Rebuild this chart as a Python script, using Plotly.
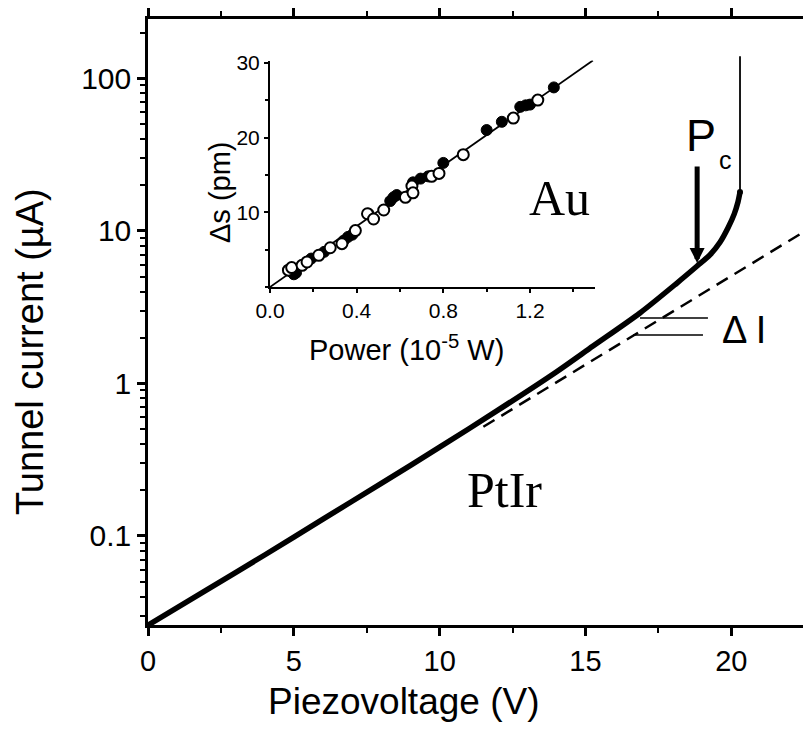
import plotly.graph_objects as go
import math

# ---------------- data ----------------
# main curve: piezovoltage (V) vs tunnel current (uA)
curve_x = [0, 2, 4, 6, 8, 10, 12, 14, 15.26, 16.87, 18.13, 18.83, 19.27, 19.62, 19.89,
           20.10, 20.23, 20.30]
curve_y = [0.026, 0.0442, 0.0750, 0.129, 0.221, 0.382, 0.668, 1.19, 1.76, 2.90, 4.54, 5.89,
           6.97, 8.47, 10.5, 12.9, 15.5, 18.0]
# thin vertical continuation (contact)
jump_x = [20.3, 20.3]
jump_y = [18.0, 140]
# extrapolated exponential (dashed)
extrap_x = [11.5, 22.5]
extrap_y = [0.52, 9.9]
# Delta I marker lines
dI_upper_x = [16.87, 19.2]
dI_upper_y = [2.69, 2.69]
dI_lower_x = [16.63, 19.03]
dI_lower_y = [2.08, 2.08]
# P_c arrow position (V, uA)
pc_x = 18.83
pc_y = 6.17

# inset: power (1e-5 W) vs delta s (pm)
filled_x = [0.10, 0.11, 0.12, 0.19, 0.25, 0.34, 0.36, 0.38, 0.455, 0.555, 0.57, 0.585,
            0.66, 0.695, 0.73, 0.80, 1.00, 1.07, 1.155, 1.18, 1.20, 1.31]
filled_y = [2.0, 1.7, 1.9, 3.8, 4.7, 6.2, 6.7, 7.0, 9.8, 11.5, 12.0, 12.3,
            14.0, 14.5, 14.8, 16.6, 21.0, 22.1, 24.1, 24.3, 24.4, 26.7]
open_x = [0.085, 0.10, 0.148, 0.171, 0.225, 0.278, 0.332, 0.394, 0.45, 0.478, 0.525,
          0.625, 0.655, 0.66, 0.746, 0.78, 0.892, 1.123, 1.236]
open_y = [2.25, 2.6, 2.9, 3.35, 4.24, 5.25, 5.8, 7.55, 9.8, 9.1, 10.3,
          12.0, 13.5, 12.6, 14.8, 15.2, 17.7, 22.6, 25.0]
fit_x = [0, 1.49]
fit_y = [0, 30.3]

main_xticks = [0, 5, 10, 15, 20]
main_yticks = [0.1, 1, 10, 100]
main_yticklabels = ["0.1", "1", "10", "100"]
inset_xticks = [0.0, 0.4, 0.8, 1.2]
inset_xticklabels = ["0.0", "0.4", "0.8", "1.2"]
inset_yticks = [10, 20, 30]

# ---------------- figure ----------------
W, H = 803, 745
L, R, T, B = 148, 0, 19, 120
PW, PH = W - L - R, H - T - B

def px(x):
    return (x - L) / PW

def py(y):
    return (H - B - y) / PH

SANS = "Liberation Sans, Arial, sans-serif"
SERIF = "Liberation Serif, Times New Roman, serif"

fig = go.Figure()

fig.add_trace(go.Scatter(x=extrap_x, y=extrap_y, mode="lines",
                         line=dict(color="black", width=2.5, dash="13px,8px"),
                         showlegend=False, hoverinfo="skip"))
fig.add_trace(go.Scatter(x=curve_x, y=curve_y, mode="lines",
                         line=dict(color="black", width=5.5, shape="spline", smoothing=0.8),
                         showlegend=False, hoverinfo="skip"))
fig.add_trace(go.Scatter(x=jump_x, y=jump_y, mode="lines",
                         line=dict(color="black", width=1.8),
                         showlegend=False, hoverinfo="skip"))
fig.add_trace(go.Scatter(x=[curve_x[-1]], y=[curve_y[-1]], mode="markers",
                         marker=dict(color="black", size=6),
                         showlegend=False, hoverinfo="skip"))
fig.add_trace(go.Scatter(x=dI_upper_x, y=dI_upper_y, mode="lines",
                         line=dict(color="black", width=1.5),
                         showlegend=False, hoverinfo="skip"))
fig.add_trace(go.Scatter(x=dI_lower_x, y=dI_lower_y, mode="lines",
                         line=dict(color="black", width=1.5),
                         showlegend=False, hoverinfo="skip"))

# inset traces
fig.add_trace(go.Scatter(x=fit_x, y=fit_y, mode="lines", xaxis="x2", yaxis="y2",
                         line=dict(color="black", width=1.8),
                         showlegend=False, hoverinfo="skip", cliponaxis=False))
fig.add_trace(go.Scatter(x=filled_x, y=filled_y, mode="markers", xaxis="x2", yaxis="y2",
                         marker=dict(color="black", size=11, line=dict(color="black", width=1)),
                         showlegend=False, hoverinfo="skip", cliponaxis=False))
fig.add_trace(go.Scatter(x=open_x, y=open_y, mode="markers", xaxis="x2", yaxis="y2",
                         marker=dict(color="white", size=11, line=dict(color="black", width=2)),
                         showlegend=False, hoverinfo="skip", cliponaxis=False))

axis_common = dict(showgrid=False, zeroline=False, showline=True, linecolor="black",
                   ticks="outside", tickcolor="black")

fig.update_layout(
    width=W, height=H,
    margin=dict(l=L, r=R, t=T, b=B, pad=0),
    paper_bgcolor="white", plot_bgcolor="white",
    font=dict(family=SANS, color="black"),
    xaxis=dict(**axis_common, range=[0, 22.46], tickvals=main_xticks, linewidth=2.5,
               ticklen=8, tickwidth=2.5, mirror="ticks",
               minor=dict(dtick=2.5, tick0=0, ticks="outside", ticklen=5, tickwidth=2, tickcolor="black"),
               tickfont=dict(size=29, family=SANS)),
    yaxis=dict(**axis_common, type="log", range=[-1.584, 2.39], tickvals=main_yticks,
               ticktext=main_yticklabels, linewidth=2.5, ticklen=8, tickwidth=2.5,
               minor=dict(dtick="D1", ticks="outside", ticklen=5, tickwidth=2, tickcolor="black"),
               tickfont=dict(size=30, family=SANS)),
    xaxis2=dict(**axis_common, domain=[px(270), px(595)], anchor="y2", range=[0, 1.5],
                tickvals=inset_xticks, ticktext=inset_xticklabels, linewidth=2,
                ticklen=4, tickwidth=1.5,
                minor=dict(dtick=0.2, tick0=0, ticks="outside", ticklen=3, tickwidth=1.5, tickcolor="black"),
                tickfont=dict(size=21, family=SANS)),
    yaxis2=dict(**axis_common, domain=[py(287), py(60.5)], anchor="x2", range=[0, 30.3],
                tickvals=inset_yticks, linewidth=2, ticklen=4, tickwidth=1.5,
                minor=dict(dtick=5, tick0=0, ticks="outside", ticklen=3, tickwidth=1.5, tickcolor="black"),
                tickfont=dict(size=21, family=SANS)),
)

ann = []
# axis titles
ann.append(dict(text="Piezovoltage (V)", x=px(403), y=py(701), xref="paper", yref="paper",
                xanchor="center", yanchor="middle", showarrow=False,
                font=dict(size=37, family=SANS)))
ann.append(dict(text="Tunnel current (\u00b5A)", x=px(30), y=py(352), xref="paper", yref="paper",
                xanchor="center", yanchor="middle", showarrow=False, textangle=-90,
                font=dict(size=38, family=SANS)))
# inset titles
ann.append(dict(text="Power (10<sup>-5</sup> W)", x=px(406), y=py(348), xref="paper", yref="paper",
                xanchor="center", yanchor="middle", showarrow=False,
                font=dict(size=29, family=SANS)))
ann.append(dict(text="\u0394s (pm)", x=px(220), y=py(192), xref="paper", yref="paper",
                xanchor="center", yanchor="middle", showarrow=False, textangle=-90,
                font=dict(size=29, family=SANS)))
# labels
ann.append(dict(text="Au", x=px(559), y=py(198), xref="paper", yref="paper",
                xanchor="center", yanchor="middle", showarrow=False,
                font=dict(size=50, family=SERIF)))
ann.append(dict(text="PtIr", x=px(504), y=py(490), xref="paper", yref="paper",
                xanchor="center", yanchor="middle", showarrow=False,
                font=dict(size=50, family=SERIF)))
ann.append(dict(text="P", x=px(701), y=py(136), xref="paper", yref="paper",
                xanchor="center", yanchor="middle", showarrow=False,
                font=dict(size=45, family=SANS)))
ann.append(dict(text="c", x=px(725), y=py(160), xref="paper", yref="paper",
                xanchor="center", yanchor="middle", showarrow=False,
                font=dict(size=25, family=SANS)))
ann.append(dict(text="\u0394 I", x=px(720), y=py(330), xref="paper", yref="paper",
                xanchor="left", yanchor="middle", showarrow=False,
                font=dict(size=38, family=SANS)))
# P_c arrow
ann.append(dict(text="", x=pc_x, y=math.log10(pc_y), xref="x", yref="y",
                showarrow=True, ax=0, ay=-98, arrowhead=2, arrowwidth=5, arrowsize=0.6,
                arrowcolor="black", standoff=0))
fig.update_layout(annotations=ann)

fig.write_html("out.html")
